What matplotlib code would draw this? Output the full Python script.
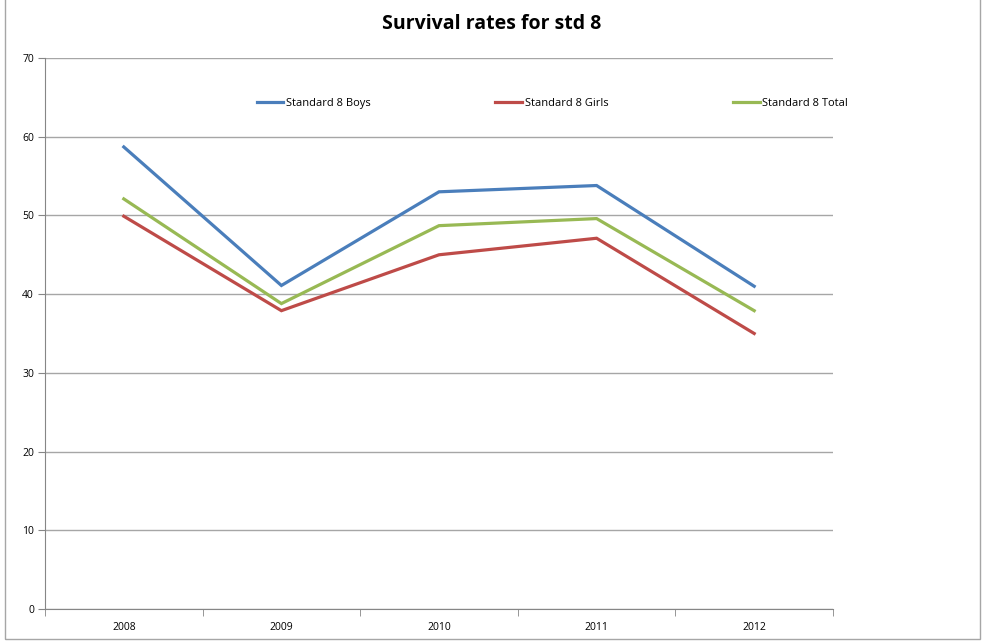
import matplotlib
matplotlib.use('Agg')
import matplotlib.pyplot as plt
from matplotlib.patches import Rectangle

# data
years = ['2008', '2009', '2010', '2011', '2012']
boys = [58.7, 41.1, 53.0, 53.8, 41.0]
girls = [49.9, 37.9, 45.0, 47.1, 35.0]
total = [52.1, 38.8, 48.7, 49.6, 37.9]
series_names = ['Standard 8 Boys', 'Standard 8 Girls', 'Standard 8 Total']
colors = ['#4a7ebb', '#be4b48', '#98b954']
y_ticks = [0, 10, 20, 30, 40, 50, 60, 70]

plt.rcParams['font.family'] = ['Open Sans', 'DejaVu Sans']

fig = plt.figure(figsize=(9.84, 6.41), dpi=100)
ax = fig.add_axes([45 / 984, 32 / 641, 788 / 984, 551 / 641])

# outer chart border
fig.patches.append(Rectangle((5 / 984, 2 / 641), 975 / 984, 660 / 641,
                             transform=fig.transFigure, fill=False,
                             edgecolor='#a6a6a6', linewidth=1.0))

x = list(range(len(years)))
for vals, name, c in zip([boys, girls, total], series_names, colors):
    ax.plot(x, vals, color=c, linewidth=2.3, label=name, solid_joinstyle='miter')

ax.set_xlim(-0.5, len(years) - 0.5)
ax.set_ylim(0, 70)
ax.set_yticks(y_ticks)
ax.set_yticklabels([str(t) for t in y_ticks], fontsize=7.5)
ax.set_xticks(x)
ax.set_xticklabels(years, fontsize=7.5)
ax.set_xticks([i - 0.5 for i in range(len(years) + 1)], minor=True)
ax.tick_params(axis='x', which='major', length=0, pad=9)
ax.tick_params(axis='x', which='minor', length=5, color='#868686', direction='out')
ax.tick_params(axis='y', length=5, color='#868686', direction='out', pad=3)

ax.grid(axis='y', color='#a6a6a6', linewidth=1.0)
ax.set_axisbelow(True)
for side in ['top', 'right']:
    ax.spines[side].set_visible(False)
for side in ['left', 'bottom']:
    ax.spines[side].set_color('#868686')

fig.text(0.5, 1 - 24 / 641, 'Survival rates for std 8', ha='center', va='center',
         fontsize=14, fontweight='bold')

leg = ax.legend(loc='center left', bbox_to_anchor=(0.263, 0.917), ncol=3,
                frameon=False, fontsize=8, handlelength=2.4,
                handletextpad=0.25, columnspacing=11.2, borderaxespad=0)

fig.savefig('out.png', dpi=100)
